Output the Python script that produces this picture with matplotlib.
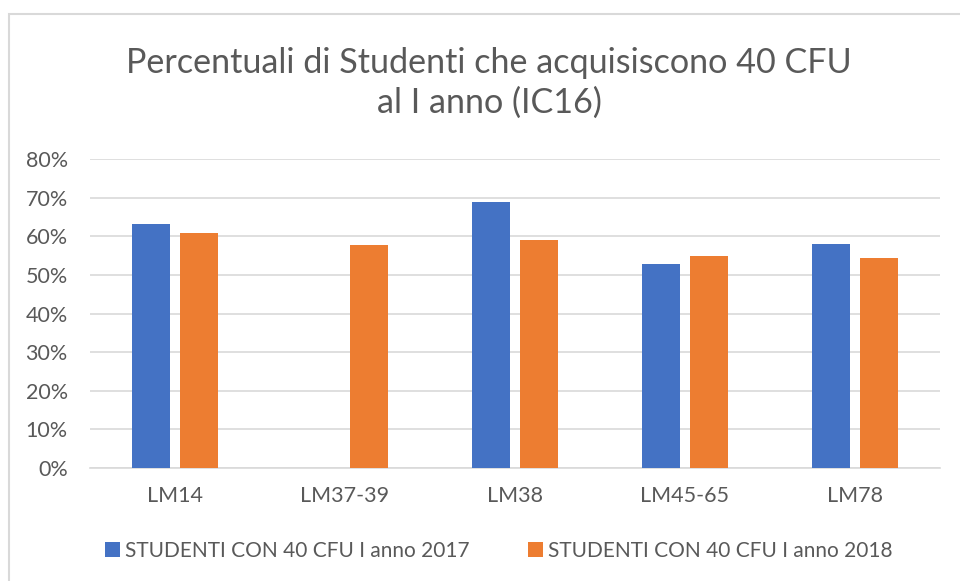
import numpy as np
import matplotlib.pyplot as plt
from matplotlib.patches import Rectangle
from matplotlib.ticker import PercentFormatter

# data
categories = ["LM14", "LM37-39", "LM38", "LM45-65", "LM78"]
anno_2017 = [63.2, np.nan, 68.9, 52.8, 57.9]   # no bar for LM37-39
anno_2018 = [60.8, 57.8, 58.9, 54.9, 54.3]
labels = ["STUDENTI CON 40 CFU I anno 2017", "STUDENTI CON 40 CFU I anno 2018"]
yticks = [0, 10, 20, 30, 40, 50, 60, 70, 80]

blue = "#4472C4"
orange = "#ED7D31"
txt = "#595959"
grid = "#D9D9D9"

plt.rcParams["font.family"] = ["Lato", "DejaVu Sans"]

W, H = 960, 581
fig = plt.figure(figsize=(W / 100, H / 100), dpi=100)

# chart border (cut off at right and bottom like the screenshot)
fig.patches.append(Rectangle((8.5 / W, -0.1), 1.2, 1.1 - 14.5 / H,
                             transform=fig.transFigure, fill=False,
                             edgecolor="#D9D9D9", linewidth=1.5))

ax = fig.add_axes([90 / W, (H - 468) / H, 850 / W, (468 - 159) / H])

x = np.arange(len(categories))
bw = 0.224
gap = 0.059
ax.bar(x - (bw + gap) / 2, anno_2017, bw, color=blue, label=labels[0], zorder=3)
ax.bar(x + (bw + gap) / 2, anno_2018, bw, color=orange, label=labels[1], zorder=3)

ax.set_xlim(-0.5, len(categories) - 0.5)
ax.set_ylim(0, 80)
ax.set_yticks(yticks)
ax.yaxis.set_major_formatter(PercentFormatter(decimals=0))
ax.set_xticks(x)
ax.set_xticklabels(categories)
ax.grid(axis="y", color=grid, linewidth=1.2, zorder=0)
for s in ["top", "right", "left"]:
    ax.spines[s].set_visible(False)
ax.spines["bottom"].set_color(grid)
ax.spines["bottom"].set_linewidth(1.2)
ax.tick_params(axis="both", length=0, colors=txt, labelsize=15.5)
ax.tick_params(axis="y", pad=16)
ax.tick_params(axis="x", pad=13)

fig.text(489 / W, 1 - 83 / H, "Percentuali di Studenti che acquisiscono 40 CFU\nal I anno (IC16)",
         ha="center", va="center", fontsize=24.6, color=txt, linespacing=1.32)

ax.legend(loc="center", bbox_to_anchor=(499 / W, 1 - 551 / H), bbox_transform=fig.transFigure,
          ncol=2, frameon=False, fontsize=15, labelcolor=txt, handlelength=0.7,
          handleheight=0.7, handletextpad=0.25, columnspacing=2.8)

fig.savefig("out.png", dpi=100)
